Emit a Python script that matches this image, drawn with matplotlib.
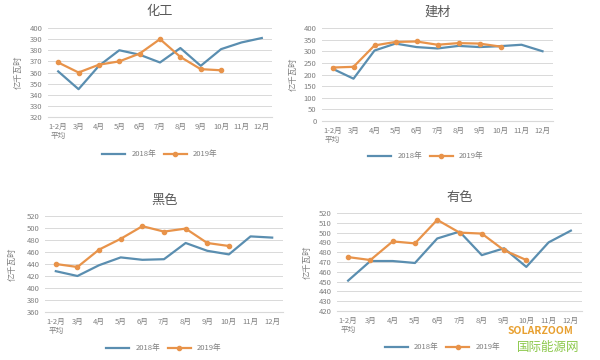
import numpy as np
import matplotlib
matplotlib.use("Agg")
from matplotlib import pyplot as plt

plt.rcParams['font.family'] = ['Noto Sans CJK SC', 'DejaVu Sans']

# data
months = ['1-2月\n平均', '3月', '4月', '5月', '6月', '7月', '8月', '9月', '10月', '11月', '12月']

chem_2018 = [361, 345, 366, 380, 376, 369, 382, 366, 381, 387, 391]
chem_2019 = [369, 360, 367, 370, 377, 390, 374, 363, 362]

build_2018 = [225, 182, 303, 333, 318, 312, 323, 318, 322, 328, 300]
build_2019 = [230, 233, 325, 340, 342, 328, 335, 333, 320]

black_2018 = [428, 420, 438, 451, 447, 448, 475, 462, 456, 486, 484]
black_2019 = [440, 435, 464, 482, 503, 494, 499, 475, 470]

nonfer_2018 = [451, 471, 471, 469, 494, 501, 477, 484, 465, 490, 502]
nonfer_2019 = [475, 472, 491, 489, 513, 500, 499, 482, 472]

blue = '#5a8eb0'
orange = '#e8934a'
grey = '#7f7f7f'

W, H = 600, 360
fig = plt.figure(figsize=(6, 3.6), dpi=100)


def panel(box, title, s18, s19, ylim, step, ylabel_x, legend_xy):
    x0, y0, x1, y1 = box
    ax = fig.add_axes([x0 / W, 1 - y1 / H, (x1 - x0) / W, (y1 - y0) / H])
    x = np.arange(len(months))
    ax.plot(x, s18, color=blue, lw=1.6, label='2018年')
    ax.plot(x[:len(s19)], s19, color=orange, lw=1.6, marker='o', ms=3, label='2019年')
    ax.set_xlim(-0.5, len(months) - 0.5)
    ax.set_ylim(*ylim)
    ax.set_yticks(np.arange(ylim[0], ylim[1] + 1, step))
    ax.set_xticks(x)
    ax.set_xticklabels(months)
    ax.grid(axis='y', color='#d9d9d9', lw=0.7)
    ax.set_axisbelow(True)
    for s in ['top', 'right', 'left']:
        ax.spines[s].set_visible(False)
    ax.spines['bottom'].set_color('#d9d9d9')
    ax.tick_params(length=0, labelsize=5.5, colors=grey, pad=4)
    ax.set_title(title, fontsize=9.5, color='#595959', pad=9)
    fig.text(ylabel_x / W, 1 - (y0 + y1) / 2 / H, '亿千瓦时', rotation=90,
             ha='center', va='center', fontsize=6, color=grey)
    ax.legend(loc='center', bbox_to_anchor=legend_xy, ncol=2, frameon=False,
              fontsize=5.5, labelcolor=grey, handlelength=3, columnspacing=1)
    return ax


panel((48, 28, 272, 117), '化工', chem_2018, chem_2019, (320, 400), 10, 18, (0.5, -0.42))
panel((322, 28, 553, 121), '建材', build_2018, build_2019, (0, 400), 50, 293, (0.45, -0.38))
panel((45, 216, 283, 312), '黑色', black_2018, black_2019, (360, 520), 20, 12, (0.5, -0.38))
panel((337, 213, 582, 311), '有色', nonfer_2018, nonfer_2019, (420, 520), 10, 307, (0.43, -0.37))

# watermark
fig.text(540 / W, 1 - 331 / H, 'SOLARZOOM', fontsize=7.5, color='#e8a030',
         ha='center', va='center', fontweight='bold')
fig.text(548 / W, 1 - 347 / H, '国际能源网', fontsize=9, color='#8cc84b', ha='center', va='center')

fig.savefig('out.png', dpi=100)
